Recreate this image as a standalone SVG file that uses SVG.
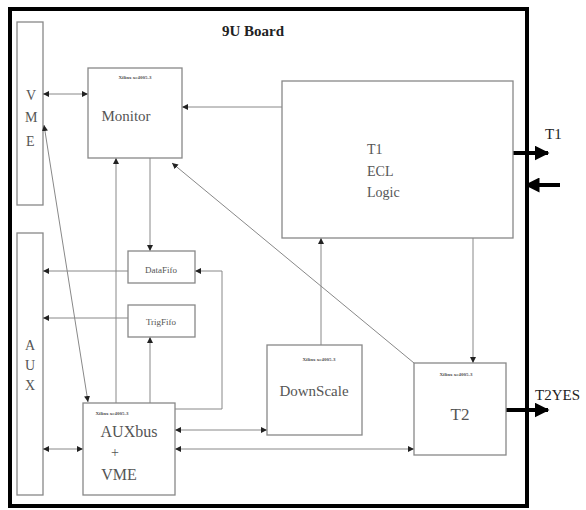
<svg xmlns="http://www.w3.org/2000/svg" width="586" height="510" viewBox="0 0 586 510">
<style>
.box{fill:#fff;stroke:#888;stroke-width:1.3}
.ln{fill:none;stroke:#888;stroke-width:1}
text{font-family:"Liberation Serif","Times New Roman","DejaVu Serif",serif}
.t{fill:#555}
.chip{font-size:5px;fill:#555;font-weight:bold}
.thick{fill:none;stroke:#000;stroke-width:4}
</style>
<defs>
<marker id="a" viewBox="0 0 10 10" refX="10" refY="5" markerWidth="6" markerHeight="6" orient="auto-start-reverse" markerUnits="userSpaceOnUse">
<path d="M0,0L10,5L0,10z" fill="#222"/>
</marker>
<marker id="b" viewBox="0 0 10 10" refX="9" refY="5" markerWidth="15" markerHeight="15" orient="auto" markerUnits="userSpaceOnUse">
<path d="M0,0L10,5L0,10z" fill="#000"/>
</marker>
</defs>
<rect width="586" height="510" fill="#fff"/>
<rect id="board" x="10" y="9" width="517" height="497" fill="none" stroke="#000" stroke-width="4"/>
<text x="222" y="36" font-size="15" font-weight="bold" fill="#222" font-family="Liberation Serif, DejaVu Serif, serif">9U Board</text>

<g id="vme"><rect class="box" x="17" y="22" width="26" height="183"/>
<text class="t" font-size="14" x="26" y="100">V</text><text class="t" font-size="14" x="25" y="122">M</text><text class="t" font-size="14" x="26" y="146">E</text></g>
<g id="aux"><rect class="box" x="17" y="233" width="26" height="262"/>
<text class="t" font-size="14" x="25" y="350">A</text><text class="t" font-size="14" x="25" y="370">U</text><text class="t" font-size="14" x="25" y="390">X</text></g>

<g id="connectors">
<line class="ln" x1="43" y1="94" x2="88" y2="94" marker-start="url(#a)" marker-end="url(#a)"/>
<line class="ln" x1="44" y1="125" x2="88" y2="402" marker-start="url(#a)" marker-end="url(#a)"/>
<line class="ln" x1="282" y1="107" x2="182" y2="107" marker-end="url(#a)"/>
<line class="ln" x1="414" y1="363" x2="172" y2="163" marker-end="url(#a)"/>
<line class="ln" x1="150" y1="158" x2="150" y2="251" marker-end="url(#a)"/>
<line class="ln" x1="116" y1="403" x2="116" y2="158" marker-end="url(#a)"/>
<line class="ln" x1="128" y1="271" x2="43" y2="271" marker-end="url(#a)"/>
<line class="ln" x1="128" y1="318" x2="43" y2="318" marker-end="url(#a)"/>
<line class="ln" x1="150" y1="403" x2="150" y2="337" marker-end="url(#a)"/>
<polyline class="ln" points="175,409 222,409 222,271 195,271" marker-end="url(#a)"/>
<line class="ln" x1="43" y1="449" x2="83" y2="449" marker-start="url(#a)" marker-end="url(#a)"/>
<line class="ln" x1="175" y1="430" x2="267" y2="430" marker-start="url(#a)" marker-end="url(#a)"/>
<line class="ln" x1="175" y1="449" x2="414" y2="449" marker-start="url(#a)" marker-end="url(#a)"/>
<line class="ln" x1="321" y1="345" x2="321" y2="238" marker-end="url(#a)"/>
<line class="ln" x1="473" y1="238" x2="473" y2="363" marker-end="url(#a)"/>
<line class="thick" x1="513" y1="153" x2="548" y2="153" marker-end="url(#b)"/>
<line class="thick" x1="560" y1="185" x2="526" y2="185" marker-end="url(#b)"/>
<line class="thick" x1="506" y1="410" x2="548" y2="410" marker-end="url(#b)"/>
</g>

<g id="monitor"><rect class="box" x="88" y="68" width="94" height="90"/>
<text class="chip" x="135" y="79" text-anchor="middle">Xilinx xc4005-3</text>
<text class="t" font-size="15" x="126" y="121" text-anchor="middle">Monitor</text></g>

<g id="t1ecl"><rect class="box" x="282" y="81" width="231" height="157"/>
<text class="t" font-size="14" x="367" y="154">T1</text>
<text class="t" font-size="14" x="367" y="176">ECL</text>
<text class="t" font-size="14" x="367" y="197">Logic</text></g>

<g id="datafifo"><rect class="box" x="128" y="251" width="67" height="32"/>
<text class="t" font-size="9" x="161" y="273" text-anchor="middle">DataFifo</text></g>
<g id="trigfifo"><rect class="box" x="128" y="305" width="67" height="32"/>
<text class="t" font-size="9" x="161" y="325" text-anchor="middle">TrigFifo</text></g>

<g id="auxbus"><rect class="box" x="83" y="403" width="92" height="92"/>
<text class="chip" x="112" y="415" text-anchor="middle">Xilinx xc4005-3</text>
<text class="t" font-size="16" x="129" y="437" text-anchor="middle">AUXbus</text>
<text class="t" font-size="14" x="115" y="457" text-anchor="middle">+</text>
<text class="t" font-size="16" x="119" y="480" text-anchor="middle">VME</text></g>

<g id="downscale"><rect class="box" x="267" y="345" width="95" height="90"/>
<text class="chip" x="319" y="361" text-anchor="middle">Xilinx xc4005-3</text>
<text class="t" font-size="15" x="314" y="396" text-anchor="middle">DownScale</text></g>

<g id="t2"><rect class="box" x="414" y="363" width="92" height="92"/>
<text class="chip" x="456" y="376" text-anchor="middle">Xilinx xc4005-3</text>
<text class="t" font-size="17" x="460" y="420" text-anchor="middle">T2</text></g>

<text font-size="15" x="545" y="139" fill="#222">T1</text>
<text font-size="15" x="535" y="400" fill="#222">T2YES</text>
</svg>
